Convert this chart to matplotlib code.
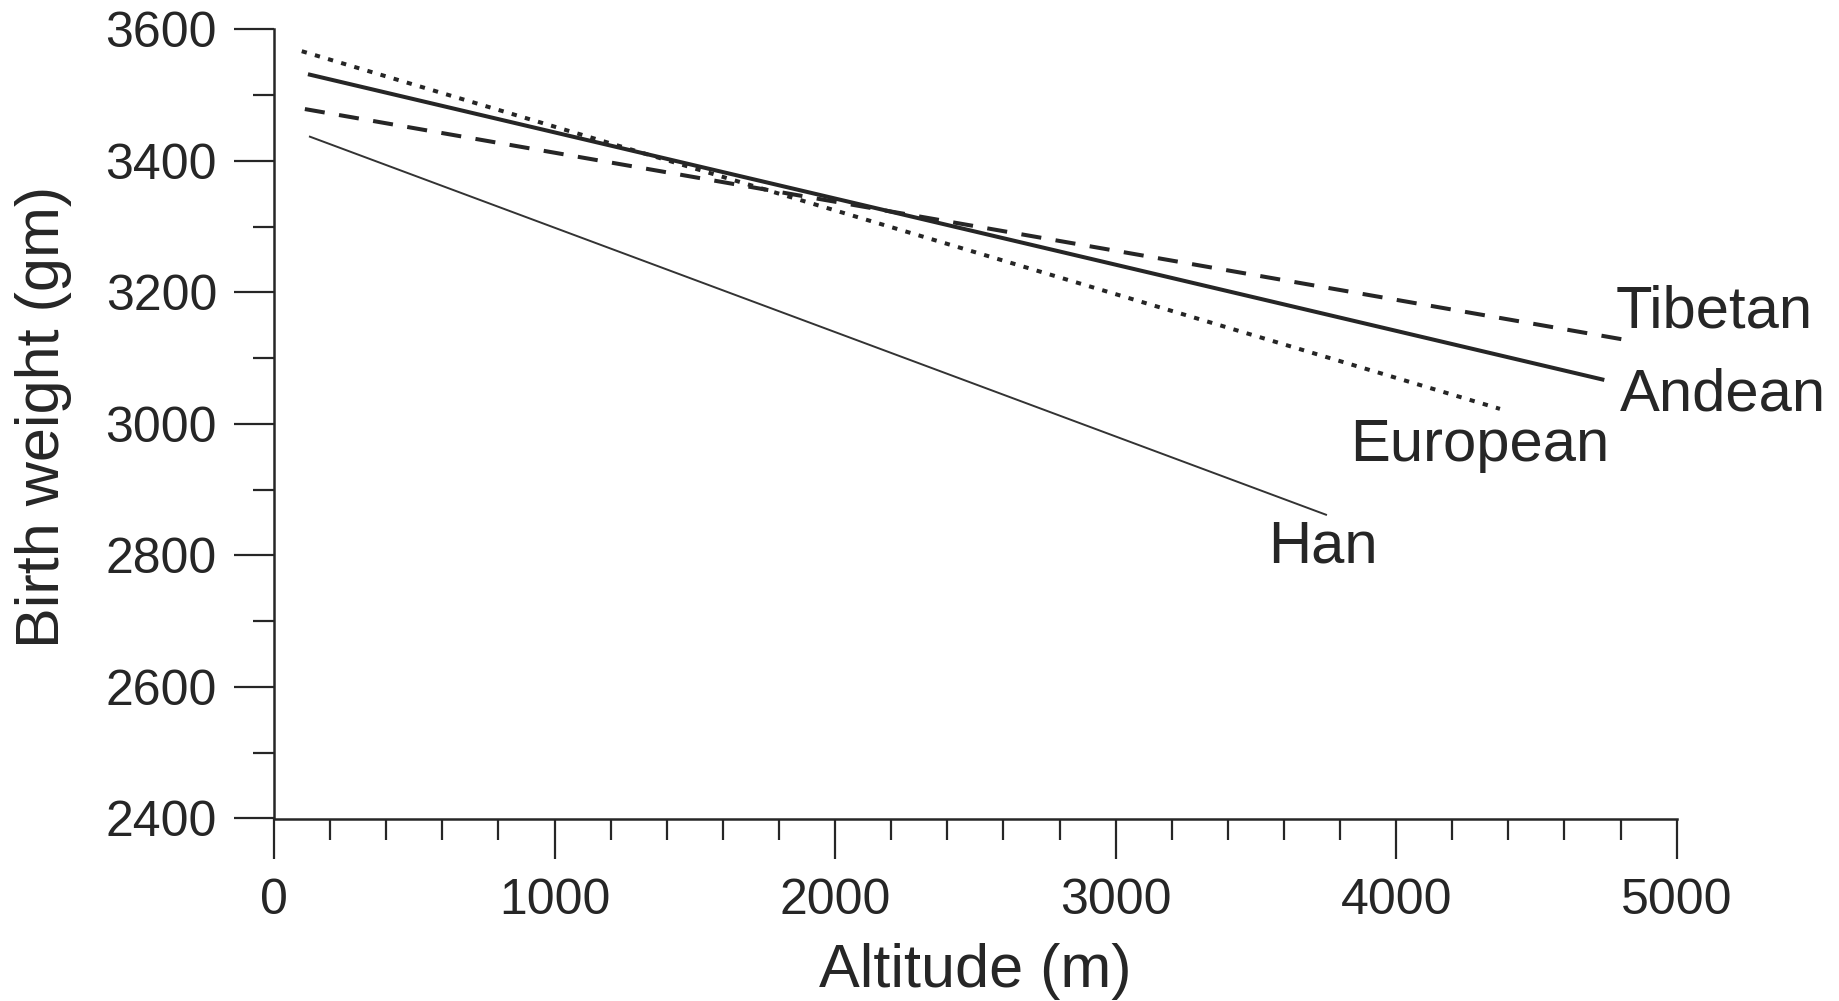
import matplotlib
matplotlib.use("Agg")
import matplotlib.pyplot as plt
from matplotlib.ticker import MultipleLocator

# Data (regression lines: start/end points)
groups = ["Tibetan", "Andean", "European", "Han"]
altitude_start = [110, 121, 99, 128]
altitude_end = [4830, 4742, 4370, 3750]
weight_start = [3479, 3532, 3567, 3437]
weight_end = [3127, 3067, 3023, 2862]

x_ticks = [0, 1000, 2000, 3000, 4000, 5000]
y_ticks = [2400, 2600, 2800, 3000, 3200, 3400, 3600]

plt.rcParams['font.family'] = ['Liberation Sans', 'DejaVu Sans']
ink = '#262626'

fig = plt.figure(figsize=(18.39, 10.01), dpi=100)
ax = fig.add_axes([274 / 1839, 1 - 818.5 / 1001, (1676.7 - 274) / 1839, (818.5 - 29.5) / 1001])

lw = 2.9
styles = {
    "Tibetan": dict(color=ink, lw=lw, linestyle=(0, (5.0, 3.6)), dash_capstyle='butt'),
    "Andean": dict(color=ink, lw=lw, linestyle='-', solid_capstyle='butt'),
    "European": dict(color=ink, lw=lw, linestyle=(0, (1.3, 2.1)), dash_capstyle='butt'),
    "Han": dict(color='#333333', lw=1.4, linestyle='-'),
}
for g, x0, x1, y0, y1 in zip(groups, altitude_start, altitude_end, weight_start, weight_end):
    ax.plot([x0, x1], [y0, y1], **styles[g])

# line labels (layout positions)
label_pos = {"Tibetan": (4784, 3147), "Andean": (4799, 3021),
             "European": (3836, 2944), "Han": (3544, 2789)}
for g in groups:
    lx, ly = label_pos[g]
    ax.text(lx, ly, g, fontsize=43, color=ink, ha='left', va='baseline')

ax.set_xlim(0, 5000)
ax.set_ylim(2400, 3600)
ax.set_xticks(x_ticks)
ax.set_yticks(y_ticks)
ax.set_xticklabels([str(v) for v in x_ticks])
ax.set_yticklabels([str(v) for v in y_ticks])
ax.xaxis.set_minor_locator(MultipleLocator(200))
ax.yaxis.set_minor_locator(MultipleLocator(100))

for s in ['top', 'right']:
    ax.spines[s].set_visible(False)
for s in ['left', 'bottom']:
    ax.spines[s].set_linewidth(1.8)
    ax.spines[s].set_color(ink)

ax.tick_params(which='major', length=29, width=1.6, color=ink, labelsize=36,
               labelcolor=ink)
ax.tick_params(axis='y', which='major', pad=12)
ax.tick_params(axis='x', which='major', pad=14)
ax.tick_params(which='minor', length=15, width=1.6, color=ink)

ax.set_xlabel("Altitude (m)", fontsize=44, color=ink)
ax.set_ylabel("Birth weight (gm)", fontsize=44, color=ink)
ax.xaxis.set_label_coords(0.5, -0.1943)
ax.xaxis.label.set_verticalalignment('center')
ax.yaxis.set_label_coords(-0.1640, 0.509)
ax.yaxis.label.set_verticalalignment('center')

fig.savefig("out.png", dpi=100, facecolor='white')
